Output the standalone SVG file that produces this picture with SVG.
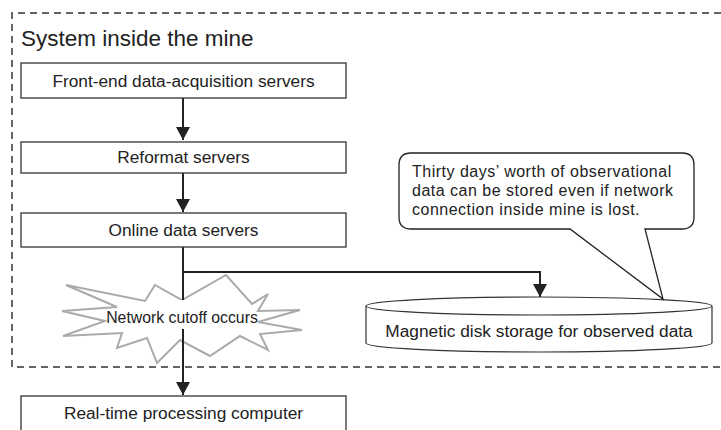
<svg xmlns="http://www.w3.org/2000/svg" width="721" height="430" viewBox="0 0 721 430">
<style>
text{font-family:"Liberation Sans",Arial,sans-serif;fill:#222;}
.lbl{font-size:17.3px;text-anchor:middle;}
.co{font-size:16px;letter-spacing:0.5px;}
.box{fill:#fff;stroke:#333;stroke-width:1.3;}
.conn{fill:none;stroke:#222;stroke-width:2;}
</style>
<defs>
<marker id="ah" viewBox="0 0 13 14" refX="13" refY="7" markerWidth="13" markerHeight="14" markerUnits="userSpaceOnUse" orient="auto">
<path d="M0,0 L13,7 L0,14 Z" fill="#222"/>
</marker>
</defs>
<path d="M721,13 H12 V367 H721" fill="none" stroke="#333" stroke-width="1.5" stroke-dasharray="7,5"/>
<text x="21" y="46" style="font-size:22.5px">System inside the mine</text>

<g id="star">
<polygon points="66,285 145,301 155,285 182,300 226,275 252,304 268,294 258,311 300,310 258,322 302,330 260,334 268,350 240,336 210,356 180,340 157,363 147,338 117,348 122,333 63,336 105,321 62,311 117,307" fill="#fff" stroke="#aaa" stroke-width="2" stroke-linejoin="miter"/>
</g>

<g id="connectors">
<line class="conn" x1="183" y1="98" x2="183" y2="140" marker-end="url(#ah)"/>
<line class="conn" x1="183" y1="173" x2="183" y2="212" marker-end="url(#ah)"/>
<line class="conn" x1="183" y1="247" x2="183" y2="395" marker-end="url(#ah)"/>
<polyline class="conn" points="183,272 540,272 540,297" marker-end="url(#ah)"/>
</g>

<g id="cutoff-label">
<rect x="177" y="300" width="12" height="29" fill="#fff"/>
<text x="182" y="323" style="font-size:15.8px;text-anchor:middle">Network cutoff occurs</text>
</g>

<g id="frontend">
<rect class="box" x="21" y="63" width="325" height="35"/>
<text class="lbl" x="183.5" y="87">Front-end data-acquisition servers</text>
</g>
<g id="reformat">
<rect class="box" x="21" y="142" width="325" height="31"/>
<text class="lbl" x="183.5" y="163">Reformat servers</text>
</g>
<g id="online">
<rect class="box" x="21" y="213" width="325" height="34"/>
<text class="lbl" x="183.5" y="236">Online data servers</text>
</g>
<g id="realtime">
<rect class="box" x="21" y="396" width="325" height="40"/>
<text class="lbl" x="183.5" y="419">Real-time processing computer</text>
</g>

<g id="disk">
<path d="M366,306 V343 A173,9 0 0 0 712,343 V306" fill="#fff" stroke="#333" stroke-width="1.2"/>
<ellipse cx="539" cy="306" rx="173" ry="9" fill="#fff" stroke="#333" stroke-width="1.2"/>
<text class="lbl" x="539" y="337">Magnetic disk storage for observed data</text>
</g>

<g id="callout">
<path d="M411,153 H682 Q694,153 694,165 V217 Q694,229 682,229 H645 L663,299 L570,229 H411 Q399,229 399,217 V165 Q399,153 411,153 Z" fill="#fff" stroke="#222" stroke-width="1.3" stroke-linejoin="miter"/>
<text class="co" x="412" y="177">Thirty days’ worth of observational</text>
<text class="co" x="412" y="196">data can be stored even if network</text>
<text class="co" x="412" y="215">connection inside mine is lost.</text>
</g>
</svg>
